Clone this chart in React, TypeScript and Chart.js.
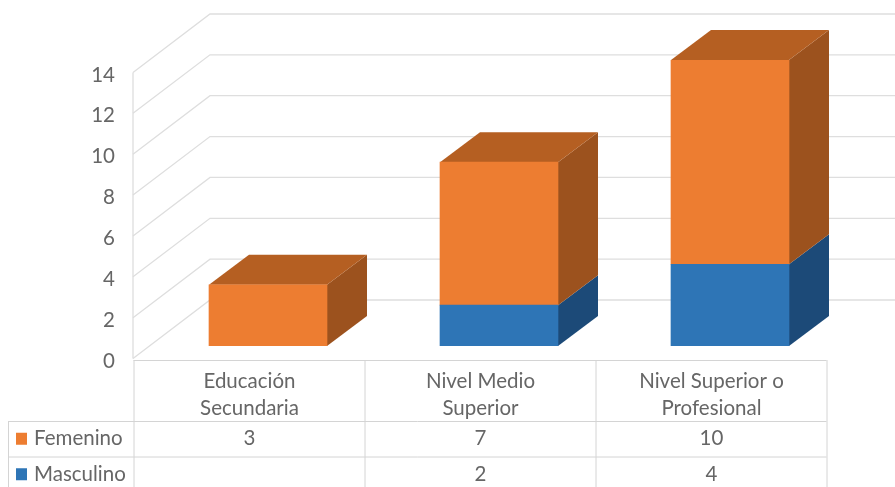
import { useEffect, useRef } from "react";
import { Chart, registerables } from "chart.js";

Chart.register(...registerables);

const categories = [["Educación", "Secundaria"], ["Nivel Medio", "Superior"], ["Nivel Superior o", "Profesional"]];
const femenino = [3, 7, 10];
const masculino = [null, 2, 4];

const ORANGE = "#ED7D31";
const BLUE = "#2E75B6";
const ORANGE_SIDE = "#9C521E";
const ORANGE_TOP = "#B55F22";
const BLUE_SIDE = "#1C4A78";
const GRID = "#DEDEDE";
const TABLE_LINE = "#D4D4D4";
const TEXT = "#666666";
const FONT = '20.5px Lato, "Open Sans", sans-serif';

// Depth of the bars and offsets of the walls relative to the plane of the bars
const DEPTH_X = 40;
const DEPTH_Y = -30;
const FRONT_X = 133;
const FRONT_DY = 12.5;
const WALL_X = 210;
const WALL_DY = -46;

// Table layout
const TABLE_LEFT = 8;
const TABLE_TOP = 360;
const ROW_A = 421;
const ROW_B = 456.5;
const ROW_H = 35.5;
const CELL_SHIFT = -19;

const polygon = (ctx: CanvasRenderingContext2D, pts: number[][], fill: string) => {
  ctx.beginPath();
  pts.forEach(([x, y], i) => (i ? ctx.lineTo(x, y) : ctx.moveTo(x, y)));
  ctx.closePath();
  ctx.fillStyle = fill;
  ctx.fill();
};

// Walls, floor and the side/top faces of each stacked box
const depthPlugin = {
  id: "depth",
  beforeDatasetsDraw(chart: any) {
    const { ctx, scales } = chart;
    const y = scales.y;
    ctx.save();
    ctx.strokeStyle = GRID;
    ctx.lineWidth = 1.3;
    y.ticks.forEach((t: any) => {
      const py = y.getPixelForValue(t.value);
      ctx.beginPath();
      ctx.moveTo(FRONT_X, py + FRONT_DY);
      ctx.lineTo(WALL_X, py + WALL_DY);
      ctx.lineTo(895, py + WALL_DY);
      ctx.stroke();
    });
    ctx.beginPath();
    ctx.moveTo(FRONT_X, y.getPixelForValue(14) + FRONT_DY);
    ctx.lineTo(FRONT_X, y.getPixelForValue(0) + FRONT_DY);
    ctx.stroke();

    chart.data.datasets.forEach((ds: any, di: number) => {
      const meta = chart.getDatasetMeta(di);
      meta.data.forEach((bar: any, i: number) => {
        if (ds.data[i] == null) return;
        const right = bar.x + bar.width / 2;
        const left = bar.x - bar.width / 2;
        const isTop = !chart.data.datasets.slice(di + 1).some((o: any) => o.data[i] != null);
        polygon(ctx, [
          [right, bar.base],
          [right + DEPTH_X, bar.base + DEPTH_Y],
          [right + DEPTH_X, bar.y + DEPTH_Y],
          [right, bar.y],
        ], ds.sideColor);
        if (isTop) {
          polygon(ctx, [
            [left, bar.y],
            [left + DEPTH_X, bar.y + DEPTH_Y],
            [right + DEPTH_X, bar.y + DEPTH_Y],
            [right, bar.y],
          ], ds.topColor);
        }
      });
    });
    ctx.restore();
  },
  // Value axis labels and the data table under the plot
  afterDatasetsDraw(chart: any) {
    const { ctx, scales } = chart;
    const x = scales.x;
    const y = scales.y;
    ctx.save();
    ctx.font = FONT;
    ctx.fillStyle = TEXT;
    ctx.textBaseline = "middle";
    ctx.textAlign = "right";
    y.ticks.forEach((t: any) => {
      ctx.fillText(String(t.value), 115, y.getPixelForValue(t.value) + FRONT_DY + 2.5);
    });

    const step = x.getPixelForValue(1) - x.getPixelForValue(0);
    const edge = (i: number) => x.getPixelForValue(i) + CELL_SHIFT - step / 2;
    const colLeft = edge(0);
    const colRight = edge(categories.length);

    ctx.strokeStyle = TABLE_LINE;
    ctx.lineWidth = 1;
    ctx.beginPath();
    ctx.moveTo(colLeft, TABLE_TOP + 0.5);
    ctx.lineTo(colRight, TABLE_TOP + 0.5);
    [ROW_A, ROW_B].forEach((r) => {
      ctx.moveTo(TABLE_LEFT, r + 0.5);
      ctx.lineTo(colRight, r + 0.5);
    });
    ctx.moveTo(TABLE_LEFT + 0.5, ROW_A);
    ctx.lineTo(TABLE_LEFT + 0.5, 487);
    categories.forEach((_, i) => {
      ctx.moveTo(edge(i) + 0.5, TABLE_TOP);
      ctx.lineTo(edge(i) + 0.5, 487);
    });
    ctx.moveTo(colRight + 0.5, TABLE_TOP);
    ctx.lineTo(colRight + 0.5, 487);
    ctx.stroke();

    ctx.textAlign = "center";
    categories.forEach((lines, i) => {
      const cx = x.getPixelForValue(i) + CELL_SHIFT + 0.5;
      ctx.fillText(lines[0], cx, 381);
      ctx.fillText(lines[1], cx, 408);
    });

    // Femenino sits on the first row even though it is stacked last
    [...chart.data.datasets].reverse().forEach((ds: any, row: number) => {
      const cy = ROW_A + ROW_H / 2 + row * ROW_H;
      ctx.fillStyle = ds.backgroundColor;
      ctx.fillRect(16, cy - 6, 11, 12);
      ctx.fillStyle = TEXT;
      ctx.textAlign = "left";
      ctx.fillText(ds.label, 34, cy);
      ctx.textAlign = "center";
      ds.data.forEach((v: number | null, i: number) => {
        if (v != null) ctx.fillText(String(v), x.getPixelForValue(i) + CELL_SHIFT + 0.5, cy);
      });
    });
    ctx.restore();
  },
};

export default function App() {
  const ref = useRef<HTMLCanvasElement>(null);
  useEffect(() => {
    const chart = new Chart(ref.current!, {
      type: "bar",
      data: {
        labels: categories.map((c) => c.join(" ")),
        datasets: [
          { label: "Masculino", data: masculino, backgroundColor: BLUE, sideColor: BLUE_SIDE, topColor: BLUE_SIDE },
          { label: "Femenino", data: femenino, backgroundColor: ORANGE, sideColor: ORANGE_SIDE, topColor: ORANGE_TOP },
        ] as any,
      },
      options: {
        animation: false,
        responsive: false,
        layout: { padding: { left: 152.5, right: 49.5, top: 60, bottom: 141 } },
        plugins: { legend: { display: false }, tooltip: { enabled: false } },
        datasets: { bar: { barThickness: 118 } },
        scales: {
          x: { stacked: true, display: false },
          y: { stacked: true, display: false, min: 0, max: 14, ticks: { stepSize: 2 } },
        },
      },
      plugins: [depthPlugin],
    });
    return () => chart.destroy();
  }, []);
  return (
    <div style={{ position: "fixed", left: 0, top: 0, width: 895, height: 487, background: "#fff" }}>
      <canvas ref={ref} width={895} height={487} style={{ display: "block" }} />
    </div>
  );
}
